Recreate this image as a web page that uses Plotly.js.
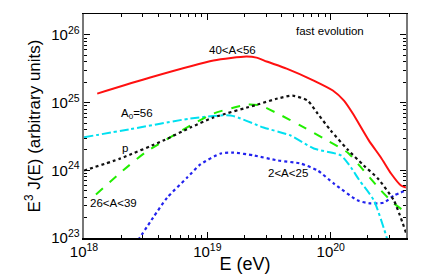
<!DOCTYPE html>
<html><head><meta charset="utf-8">
<script src="https://cdn.plot.ly/plotly-3.0.1.min.js"></script>
<style>html,body{margin:0;padding:0;background:#fff}#c{width:426px;height:274px}</style>
</head><body><div id="c"></div>
<script>
// Energies (eV) and E^3 J(E) values
const redE = [1.28e18,3.44e18,1.12e19,2.07e19,2.50e19,3.02e19,4.39e19,7.28e19,1.04e20,1.28e20,1.51e20,2.04e20,2.55e20,3.08e20,3.71e20,4.07e20];
const redY = [1.36e25,2.35e25,4.19e25,4.80e25,4.63e25,4.05e25,3.19e25,2.12e25,1.51e25,1.07e25,6.90e24,2.75e24,1.55e24,8.97e23,5.96e23,5.57e23];

const cyanE = [1.0e18,2.37e18,7.28e18,1.54e19,2.85e19,4.73e19,7.28e19,1.21e20,1.46e20,1.69e20,2.24e20,2.85e20,2.95e20];
const cyanY = [3.08e24,4.06e24,5.82e24,6.46e24,4.29e24,3.27e24,2.10e24,1.66e24,1.10e24,7.31e23,3.58e23,1.0e23,7.9e22];

const greenE = [1.25e18,2.07e18,3.13e18,7.28e18,1.12e19,2.11e19,2.70e19,3.71e19,5.70e19,8.77e19,1.37e20,1.85e20,2.55e20,3.19e20,4.07e20];
const greenY = [4.40e23,9.93e23,1.83e24,4.59e24,6.90e24,9.38e24,9.06e24,6.90e24,4.59e24,2.95e24,1.83e24,9.93e23,5.04e23,3.34e23,2.38e23];

const pE = [1.0e18,1.96e18,4.39e18,7.28e18,1.12e19,2.55e19,3.71e19,4.91e19,6.50e19,7.83e19,1.0e20,1.37e20,1.85e20,2.41e20,3.25e20,4.07e20];
const pY = [9.93e23,1.49e24,2.75e24,4.29e24,6.03e24,9.38e24,1.15e25,1.27e25,1.07e25,6.90e24,3.87e24,2.03e24,1.18e24,7.57e23,3.58e23,1.20e23];

const blueE = [2.75e18,3.64e18,4.73e18,6.87e18,8.77e18,1.28e19,1.63e19,2.37e19,3.71e19,5.70e19,7.83e19,1.06e20,1.66e20,2.11e20,2.70e20,3.25e20,4.07e20];
const blueY = [9.3e22,2.01e23,3.96e23,7.83e23,1.22e24,1.77e24,1.83e24,1.66e24,1.40e24,1.26e24,9.93e23,6.38e23,3.58e23,3.24e23,3.34e23,4.25e23,5.04e23];

const labels = ["fast evolution","40<A<56","A<sub>0</sub>=56","p","26<A<39","2<A<25"];
const labelE = [9.8e19,1.59e19,2.7e18,2.15e18,1.72e18,4.47e19];
const labelY = [1.16e26,5.9e25,6.9e24,2.15e24,3.24e23,9.27e23];

const font = "Liberation Sans, Arial, sans-serif";
function tr(x,y,color,dash,width){
  return {x:x,y:y,type:'scatter',mode:'lines',line:{color:color,dash:dash,width:width,shape:'spline',smoothing:0.6},hoverinfo:'skip',showlegend:false};
}
const data = [
  tr(blueE,blueY,'#2222ee','dot',2.2),
  tr(cyanE,cyanY,'#00e0f0','dashdot',2),
  tr(greenE,greenY,'#22ee00','dash',2),
  tr(pE,pY,'#111111','dot',2.2),
  tr(redE,redY,'#ff1010','solid',2)
];
const ann = labels.map((t,i)=>({x:Math.log10(labelE[i]),y:Math.log10(labelY[i]),text:t,showarrow:false,xanchor:'center',yanchor:'middle',font:{family:font,size:11.5,color:'#000'}}));
const layout = {
  width:426,height:274,
  margin:{l:84,r:20,t:14,b:36},
  paper_bgcolor:'#fff',plot_bgcolor:'#fff',
  font:{family:font,color:'#000'},
  xaxis:{type:'log',range:[18,20.61],dtick:1,exponentformat:'power',showgrid:false,zeroline:false,
    ticks:'inside',ticklen:6,tickcolor:'#000',showline:true,linecolor:'#000',linewidth:1.5,mirror:'ticks',
    minor:{ticks:'inside',ticklen:3,tickcolor:'#000',showgrid:false},
    tickfont:{size:12,family:font},title:{text:'E (eV)',font:{size:18,family:font},standoff:3}},
  yaxis:{type:'log',range:[23,26.31],dtick:1,exponentformat:'power',showgrid:false,zeroline:false,
    ticks:'inside',ticklen:6,tickcolor:'#000',showline:true,linecolor:'#777',linewidth:2,mirror:'ticks',
    minor:{ticks:'inside',ticklen:3,tickcolor:'#000',showgrid:false},
    tickfont:{size:12,family:font},title:{text:'E<sup>3</sup> J(E) (arbitrary units)',font:{size:17,family:font},standoff:6}},
  annotations:ann
};
Plotly.newPlot('c',data,layout,{staticPlot:true,displayModeBar:false});
</script></body></html>
